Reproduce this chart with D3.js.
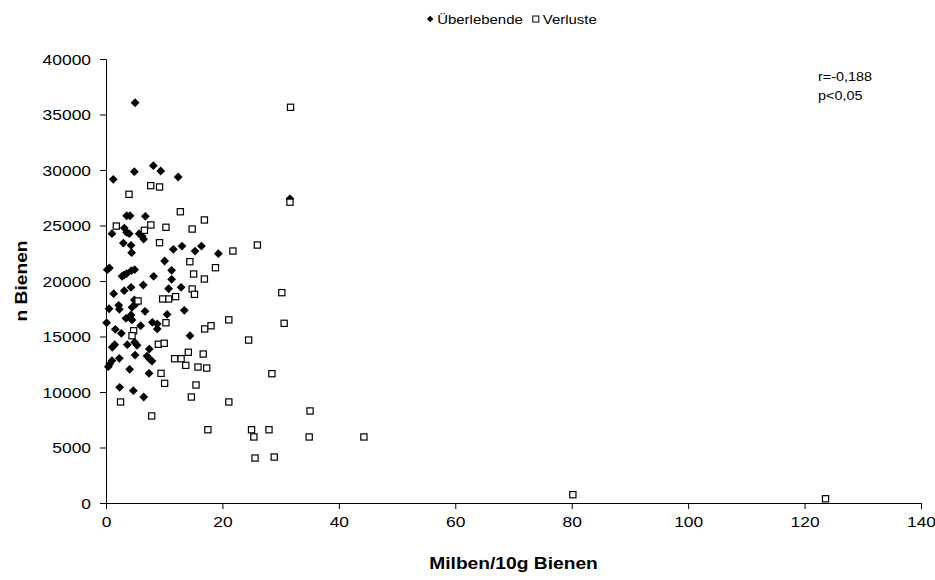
<!DOCTYPE html>
<html>
<head>
<meta charset="utf-8">
<script src="https://cdn.jsdelivr.net/npm/d3@7"></script>
<style>
  body { margin: 0; background: #fff; }
  text { font-family: "Liberation Sans", Arial, sans-serif; fill: #000; }
</style>
</head>
<body>
<div id="chart"></div>
<script>
// survivors (Überlebende): [mites per 10g bees, number of bees]
const survivors = [
  [5.0, 36060], [1.25, 29160], [4.87, 29850], [8.13, 30390], [9.4, 29910], [12.4, 29370], [31.6, 27400],
  [3.55, 25880], [4.12, 25880], [6.76, 25830], [1.03, 24260], [3.15, 24770], [3.55, 24380], [4.0, 24260],
  [5.7, 24260], [6.19, 24050], [6.46, 23780], [2.98, 23420], [4.3, 23210], [4.4, 22550], [11.57, 22850],
  [13.06, 23150], [15.3, 22700], [16.4, 23150], [19.3, 22460], [10.07, 21800], [0.57, 21170], [0.22, 21020],
  [3.1, 20540], [3.55, 20660], [4.35, 20930], [4.92, 21020], [2.75, 20420], [8.18, 20420], [11.27, 20960],
  [11.27, 20150], [1.32, 18860], [3.14, 19130], [4.3, 19430], [6.4, 19640], [10.76, 19300], [12.9, 19430],
  [0.52, 17500], [2.18, 17810], [2.29, 17450], [4.47, 17630], [4.87, 18290], [5.1, 17930], [6.7, 17270],
  [10.5, 16990], [13.45, 17360], [3.44, 16640], [4.3, 16940],
  [0.11, 16240], [4.47, 16490], [5.95, 15970], [7.96, 16280], [8.8, 16130], [8.8, 15680], [1.6, 15650],
  [2.63, 15290], [14.43, 15070], [1.49, 14260], [1.08, 14030], [3.66, 14260], [4.92, 14480], [5.33, 14210],
  [7.44, 13870], [5.0, 13330], [7.04, 13240], [7.5, 12970], [7.9, 12790], [2.29, 13030], [1.03, 12820],
  [0.63, 12520], [0.4, 12280], [4.06, 12040], [7.39, 11680], [2.35, 10420], [4.7, 10120], [6.48, 9550]
];

// losses (Verluste)
const losses = [
  [3.95, 27810], [7.68, 28590], [9.2, 28470], [12.77, 26240], [31.7, 35650], [31.6, 27100], [21.8, 22700],
  [26.0, 23240], [30.2, 18950], [21.1, 16500], [30.6, 16190], [24.5, 14680], [28.5, 11650], [21.1, 9100],
  [35.05, 8290], [25.0, 6600], [28.0, 6600], [25.4, 5950], [34.9, 5950], [44.3, 5950], [25.6, 4050],
  [28.9, 4140], [80.2, 750], [123.6, 380],
  [1.77, 24950], [6.6, 24570], [7.7, 25050], [10.3, 24840], [16.9, 25500], [14.8, 24680], [9.2, 23450],
  [14.4, 21740], [18.8, 21200], [15.05, 20630], [16.9, 20180], [14.8, 19280], [15.2, 18800], [11.96, 18590],
  [10.76, 18380], [9.73, 18380], [5.5, 18200],
  [4.75, 15520], [4.47, 15070], [10.3, 16240], [16.95, 15680], [18.04, 15970], [8.99, 14300], [10.0, 14390],
  [14.14, 13580], [16.7, 13420], [11.79, 13000], [12.9, 13000], [13.7, 12400], [15.8, 12250], [17.3, 12160],
  [9.45, 11680], [10.07, 10780], [15.46, 10630], [14.66, 9550], [2.5, 9100], [7.85, 7840], [17.5, 6600]
];

const xTicks = [0, 20, 40, 60, 80, 100, 120, 140];
const yTicks = [0, 5000, 10000, 15000, 20000, 25000, 30000, 35000, 40000];
const seriesNames = ["Überlebende", "Verluste"];
const statsLines = ["r=-0,188", "p<0,05"];

const W = 935, H = 580;
const margin = { top: 59, right: 14, bottom: 77, left: 106 };
const width = W - margin.left - margin.right,
      height = H - margin.top - margin.bottom;

// the original text looks horizontally stretched
const STRETCH = 1.2;
function stretch(sel, k) {
  sel.each(function() {
    const len = this.getComputedTextLength();
    d3.select(this).attr("textLength", len * k).attr("lengthAdjust", "spacingAndGlyphs");
  });
}

const svg = d3.select("#chart").append("svg")
  .attr("width", W)
  .attr("height", H);

const g = svg.append("g")
  .attr("transform", `translate(${margin.left},${margin.top})`);

const x = d3.scaleLinear().domain([0, 140]).range([0, width]);
const y = d3.scaleLinear().domain([0, 40000]).range([height, 0]);

// axes
const xAxis = g.append("g")
  .attr("transform", `translate(0,${height})`)
  .call(d3.axisBottom(x).tickValues(xTicks).tickSizeOuter(0).tickSize(6).tickPadding(8));
const yAxis = g.append("g")
  .call(d3.axisLeft(y).tickValues(yTicks).tickFormat(d3.format("d")).tickSizeOuter(0).tickSize(6).tickPadding(9));

[xAxis, yAxis].forEach(a => {
  a.select(".domain").attr("stroke", "#000").attr("stroke-width", 1);
  a.selectAll(".tick line").attr("stroke", "#000");
  a.selectAll(".tick text")
    .style("font-family", "'Liberation Sans', Arial, sans-serif")
    .style("font-size", "14.5px")
    .attr("fill", "#000");
});
yAxis.selectAll(".tick text").attr("dy", "0.35em");
stretch(xAxis.selectAll(".tick text"), STRETCH);
stretch(yAxis.selectAll(".tick text"), STRETCH);

// markers
const diamond = r => `M0,${-r}L${r},0L0,${r}L${-r},0Z`;

g.append("g").selectAll("path")
  .data(survivors)
  .enter().append("path")
  .attr("d", diamond(4.4))
  .attr("transform", d => `translate(${x(d[0])},${y(d[1])})`)
  .attr("fill", "#000");

const sq = 6.2;
g.append("g").selectAll("rect")
  .data(losses)
  .enter().append("rect")
  .attr("x", d => x(d[0]) - sq / 2)
  .attr("y", d => y(d[1]) - sq / 2)
  .attr("width", sq)
  .attr("height", sq)
  .attr("fill", "#fff")
  .attr("stroke", "#000")
  .attr("stroke-width", 1.2);

// axis titles
const xTitle = svg.append("text")
  .attr("x", margin.left + width / 2)
  .attr("y", 569)
  .attr("text-anchor", "middle")
  .style("font-size", "16px")
  .style("font-weight", "bold")
  .text("Milben/10g Bienen");
stretch(xTitle, STRETCH);

const yTitle = svg.append("text")
  .attr("transform", `translate(27,${margin.top + height / 2}) rotate(-90)`)
  .attr("text-anchor", "middle")
  .style("font-size", "16px")
  .style("font-weight", "bold")
  .text("n Bienen");
stretch(yTitle, STRETCH);

// legend
const legend = svg.append("g").attr("transform", "translate(512,19)");
const lg1 = legend.append("g").attr("class", "item");
const lg2 = legend.append("g").attr("class", "item");
lg1.append("path").attr("d", diamond(3.3)).attr("fill", "#000");
const t1 = lg1.append("text").attr("x", 7).attr("dy", "0.35em").style("font-size", "13px").text(seriesNames[0]);
lg2.append("rect").attr("x", -3).attr("y", -3).attr("width", 6).attr("height", 6)
  .attr("fill", "#fff").attr("stroke", "#000").attr("stroke-width", 1);
const t2 = lg2.append("text").attr("x", 7).attr("dy", "0.35em").style("font-size", "13px").text(seriesNames[1]);
stretch(t1, 1.15);
stretch(t2, 1.15);
// lay the items out and centre the whole legend
const w1 = 7 + +t1.attr("textLength"), w2 = 7 + +t2.attr("textLength");
const gap = 10;
const total = w1 + gap + 3 + w2 + 3;
lg1.attr("transform", `translate(${-total / 2 + 3},0)`);
lg2.attr("transform", `translate(${-total / 2 + 3 + w1 + gap + 3},0)`);

// statistics note
const stats = svg.append("g").attr("transform", "translate(818,77)");
statsLines.forEach((s, i) => {
  const t = stats.append("text")
    .attr("y", i * 19)
    .attr("dy", "0.35em")
    .style("font-size", "12px")
    .text(s);
  stretch(t, STRETCH);
});
</script>
</body>
</html>
